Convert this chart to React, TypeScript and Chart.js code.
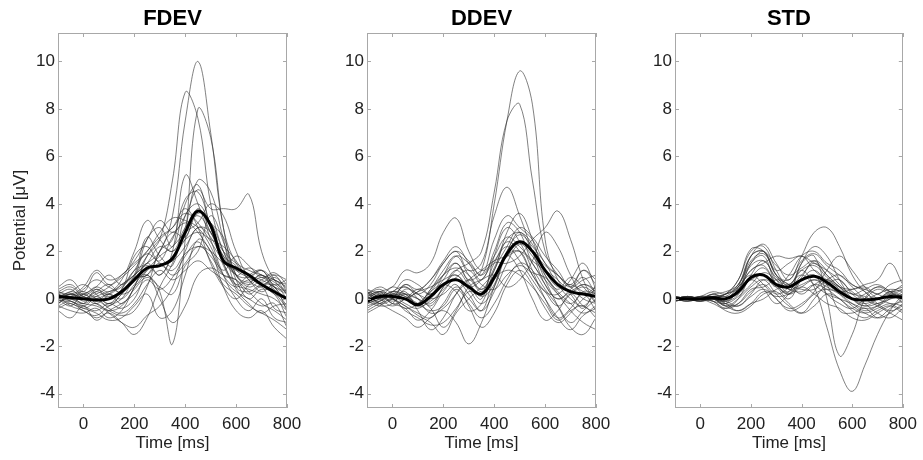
import React, { useEffect, useRef } from "react";
import { Chart, registerables } from "chart.js";

Chart.register(...registerables);

// ---------- data ----------
const timeMs = [-100, -50, 0, 50, 100, 150, 200, 250, 300, 350, 400, 450, 500, 550, 600, 650, 700, 750, 800];
const xTicks = [0, 200, 400, 600, 800];
const yTicks = [-4, -2, 0, 2, 4, 6, 8, 10];
const panelTitles = ["FDEV", "DDEV", "STD"];

const fdevMean = [0.1, 0.05, 0.0, -0.05, 0.0, 0.3, 0.8, 1.3, 1.4, 1.7, 2.8, 3.7, 3.1, 1.6, 1.3, 1.0, 0.6, 0.3, 0.0];
const ddevMean = [-0.1, 0.1, 0.1, 0.0, -0.25, 0.1, 0.6, 0.8, 0.5, 0.2, 0.9, 1.9, 2.4, 2.0, 1.2, 0.6, 0.3, 0.2, 0.1];
const stdMean = [0.0, 0.0, 0.0, 0.05, 0.0, 0.3, 0.9, 1.0, 0.6, 0.5, 0.8, 0.95, 0.7, 0.3, 0.0, -0.05, 0.0, 0.1, 0.05];

const fdevTrials: number[][] = [
  [0.2, 0.0, -0.2, 0.1, 0.3, 0.5, 1.2, 1.5, 2.0, 3.5, 7.5, 10.0, 7.0, 3.0, 1.5, 1.0, 0.8, 0.5, 0.3],
  [0.0, 0.3, 0.1, -0.2, 0.2, 0.6, 1.0, 1.8, 2.5, 5.0, 8.7, 7.6, 4.0, 2.0, 1.2, 0.9, 0.6, 0.8, 0.2],
  [-0.2, 0.1, 0.3, 0.0, -0.3, 0.2, 0.8, 1.0, 0.3, -1.9, 2.5, 8.0, 6.8, 3.0, 1.0, 0.6, 0.9, 0.4, -0.3],
  [0.3, 0.2, 0.5, 1.2, 0.8, 1.0, 1.6, 2.5, 3.3, 2.8, 3.5, 4.6, 3.8, 3.8, 3.8, 4.4, 2.0, 0.8, 0.2],
  [0.1, -0.3, -0.5, -0.8, -0.6, -1.0, -1.5, -0.8, 0.5, 1.5, 3.0, 5.0, 4.5, 2.5, 0.5, 0.3, 0.6, 0.5, -0.5],
  [-0.3, -0.5, -0.6, -0.4, -0.8, -0.5, 0.5, 1.5, 1.0, 2.0, 5.2, 4.0, 2.5, 1.0, 0.0, -0.5, 0.0, -0.8, -1.0],
  [0.4, 0.6, 0.2, 0.5, 0.3, 0.8, 2.0, 3.3, 2.5, 2.0, 3.0, 3.5, 2.8, 2.0, 1.5, 1.2, 1.0, 0.8, 0.5],
  [0.0, -0.2, -0.4, -0.6, -0.9, -0.8, -0.3, 0.2, -0.8, -0.5, 1.0, 2.5, 2.0, 0.5, -0.5, -0.8, -0.5, -1.2, -1.7],
  [-0.1, 0.2, 0.0, 0.3, 0.6, 0.2, 0.5, 1.2, 1.8, 2.2, 2.8, 3.2, 4.0, 3.5, 2.0, 1.0, 1.2, 0.6, 0.8],
  [0.2, 0.0, 0.4, 0.8, 0.5, 0.3, 0.9, 2.5, 3.0, 2.2, 4.0, 4.8, 3.0, 1.8, 1.0, 0.5, 0.8, 1.0, 0.3],
  [-0.4, -0.2, -0.5, -0.7, -0.3, 0.0, 0.8, 1.0, 1.5, 1.0, 1.5, 2.2, 1.8, 1.0, 0.8, 0.3, -0.2, -0.5, -0.9],
  [0.1, 0.3, 0.6, 0.2, -0.2, 0.4, 1.2, 1.9, 1.6, 2.6, 3.2, 2.8, 2.0, 1.2, 1.8, 1.4, 0.9, 1.1, 0.6],
  [0.0, -0.1, -0.3, 0.0, -0.4, -0.6, -0.2, 0.6, 1.2, 0.8, 1.2, 1.6, 1.2, 0.8, 0.3, 0.0, -0.3, -0.2, -1.2],
  [0.3, 0.1, 0.2, -0.2, -0.5, -0.7, -0.5, 0.5, 2.0, 2.5, 4.2, 4.5, 3.0, 1.5, 0.6, 0.4, 0.2, 0.0, -0.5],
  [-0.2, 0.2, 0.0, 0.2, 0.5, 1.0, 1.5, 2.0, 2.8, 3.4, 3.3, 3.0, 2.2, 1.0, 0.5, 0.8, 0.6, 0.2, 0.0],
  [0.2, -0.1, -0.3, -0.5, -0.2, -0.4, 0.0, 1.0, 0.0, -1.0, -0.3, 1.0, 1.3, 1.0, 0.8, 0.2, 0.5, -0.4, -0.6],
  [0.0, 0.2, 0.1, 0.4, 0.2, 0.6, 1.0, 1.4, 1.0, 1.8, 2.5, 3.6, 3.2, 2.0, 1.0, 1.3, 1.0, 0.7, 0.3],
  [-0.1, 0.0, -0.2, -0.3, -0.5, -0.3, 0.5, 1.8, 2.5, 3.0, 3.8, 3.0, 1.5, 0.5, 0.0, 0.6, 1.0, 0.5, 0.2],
  [0.3, 0.5, 0.1, 0.0, 0.2, 0.0, 0.6, 1.2, 1.4, 1.2, 1.9, 2.2, 2.0, 1.5, 1.2, 1.0, 0.7, 1.0, 0.8],
  [-0.3, -0.1, -0.4, -0.2, -0.6, -1.0, -1.2, -0.7, -0.3, 0.5, 2.0, 3.0, 2.6, 1.5, 0.4, -0.2, -0.6, -0.3, -0.2],
  [0.1, 0.0, 0.2, 0.5, 1.0, 0.6, 1.0, 1.5, 2.2, 2.0, 2.5, 2.8, 2.5, 2.2, 1.6, 0.8, 0.5, 0.9, 0.4],
  [0.0, 0.2, -0.1, 0.1, -0.2, 0.2, 1.0, 2.6, 1.8, 1.4, 3.5, 4.0, 3.2, 2.6, 1.0, 0.7, 1.0, 0.3, -0.4],
  [0.5, 0.8, 0.3, 1.1, 0.6, 0.9, 1.4, 2.0, 2.6, 3.0, 3.6, 3.2, 2.4, 1.6, 1.0, 0.9, 1.2, 0.8, 0.6],
  [-0.5, -0.8, -0.3, -0.9, -0.5, -0.2, 0.2, 0.8, 0.4, 0.9, 1.8, 2.4, 1.6, 0.6, 0.2, -0.3, -0.6, -0.9, -1.3],
  [0.2, 0.4, 0.0, 0.3, 0.1, 0.4, 1.8, 2.2, 1.5, 1.6, 2.2, 3.0, 2.8, 1.4, 0.6, 1.0, 1.2, 0.5, -0.1],
  [0.0, -0.3, 0.2, -0.1, 0.2, -0.2, 0.4, 0.9, 0.5, 0.2, 1.4, 2.0, 3.5, 2.4, 0.8, 0.0, 0.4, 0.2, -0.8],
  [-0.2, 0.1, -0.2, 0.4, 0.0, 0.3, 0.9, 1.0, 2.0, 2.8, 2.6, 3.8, 2.8, 1.8, 1.4, 0.8, 0.3, 0.6, 0.0],
];

const ddevTrials: number[][] = [
  [0.1, -0.1, 0.2, 0.0, -0.3, 0.3, 1.0, 1.5, 0.8, 1.2, 4.0, 7.5, 9.6, 8.2, 2.5, 0.8, 0.3, 0.5, 0.2],
  [-0.2, 0.0, 0.3, 0.2, 0.0, -0.2, 0.5, 1.2, 1.5, 2.0, 4.5, 7.5, 8.2, 5.0, 2.0, 1.0, 0.5, 0.0, -0.2],
  [0.2, 0.4, 0.1, 0.6, 0.4, 0.8, 1.5, 2.0, 1.2, 1.5, 3.5, 4.7, 3.5, 2.0, 0.6, 0.0, 0.3, 0.6, 0.4],
  [0.0, 0.3, 0.5, 1.2, 1.1, 1.5, 2.8, 3.4, 2.0, 1.2, 1.6, 2.4, 2.0, 1.0, 0.3, -0.3, 0.2, 0.6, 0.3],
  [-0.3, -0.1, 0.2, 0.0, 0.3, 0.5, 0.8, 1.0, 0.5, 0.8, 1.5, 1.5, 1.8, 2.5, 3.0, 3.7, 2.5, 0.8, -0.2],
  [0.1, -0.2, -0.5, -0.8, -1.2, -0.8, -0.5, -1.0, -1.9, -1.0, 0.5, 1.8, 1.2, 0.0, -0.9, -0.5, 0.2, -0.3, -0.6],
  [0.3, 0.1, 0.0, -0.3, -0.7, -1.0, -1.5, -0.6, 0.0, 0.5, 1.2, 2.8, 3.6, 2.5, 1.0, 0.2, -0.5, -1.0, -1.3],
  [-0.5, -0.2, 0.0, 0.2, -0.5, -1.3, -0.8, 0.2, 0.8, 0.3, 1.0, 2.0, 2.8, 2.0, 0.8, -0.3, -1.2, -1.5, -0.8],
  [0.2, 0.5, 0.3, 0.8, 0.6, 0.2, 1.0, 1.8, 1.5, 1.0, 2.5, 3.5, 3.0, 2.5, 1.5, 1.0, 0.5, 1.2, 0.8],
  [0.0, 0.1, -0.2, -0.4, -0.9, -0.5, 0.3, 0.8, 0.2, -0.5, 0.3, 1.5, 2.3, 1.8, 1.0, 0.3, -0.2, -0.6, -0.3],
  [-0.2, 0.0, 0.3, 0.1, -0.2, 0.4, 1.2, 1.8, 1.0, 0.4, 1.3, 2.5, 2.8, 2.3, 1.2, 0.5, 0.6, 0.3, 0.1],
  [0.4, 0.2, -0.1, 0.2, 0.0, -0.4, -1.2, -0.5, 0.5, 0.8, 1.0, 0.5, 0.8, 1.6, 2.8, 2.2, 1.0, 0.2, 0.5],
  [-0.1, -0.3, -0.2, 0.4, 0.2, -0.3, 0.5, 1.2, 0.6, 0.0, 1.8, 3.0, 2.4, 1.2, 0.0, -0.8, -0.4, 0.3, 0.2],
  [0.1, 0.3, 0.0, -0.3, -0.6, -0.8, -0.2, 0.5, 0.0, -0.5, 0.8, 1.2, 1.0, 0.5, -0.2, -0.9, -0.5, -0.3, -0.8],
  [0.0, -0.2, 0.3, 0.5, 0.2, 0.6, 1.5, 2.0, 1.6, 1.0, 1.8, 2.6, 2.2, 1.6, 1.2, 0.8, 0.2, -0.4, 0.6],
  [-0.4, -0.1, 0.1, -0.2, -0.4, 0.0, 0.6, 1.0, 0.4, -0.2, 0.5, 1.8, 2.0, 1.0, 0.3, 0.2, 0.8, 1.5, 0.4],
  [0.3, 0.0, 0.2, 0.1, -0.2, -0.5, -0.3, 0.4, -0.2, -0.8, -0.2, 0.8, 1.5, 1.2, 0.4, -0.3, -1.0, -0.5, 0.0],
  [-0.2, 0.2, 0.0, -0.4, -0.2, 0.3, 0.6, 0.3, -0.5, -0.2, 1.2, 2.2, 3.0, 2.6, 1.8, 1.2, 0.5, 0.8, 1.0],
  [0.2, 0.0, -0.3, 0.0, 0.3, 0.8, 1.6, 2.2, 1.5, 0.8, 2.0, 3.2, 2.8, 1.5, 0.8, 0.2, -0.2, 0.2, -0.5],
  [0.0, 0.3, 0.2, 0.5, 0.0, -0.6, -0.4, 0.2, 0.8, 1.2, 1.6, 1.8, 2.0, 1.5, 0.6, 0.0, 0.4, 0.9, 0.2],
  [0.4, 0.1, 0.5, 0.2, -0.2, 0.4, 1.0, 1.3, 1.0, 0.4, 1.0, 1.8, 2.4, 2.0, 1.4, 1.0, 0.6, 1.2, 0.6],
  [-0.6, -0.3, 0.0, -0.5, -0.8, -1.1, -1.0, -0.4, 0.3, 0.2, 1.5, 2.2, 1.6, 0.8, 0.0, -0.8, -1.3, -0.7, -0.4],
  [0.1, 0.3, -0.2, 0.0, 0.4, 0.2, 0.8, 1.5, 0.7, 0.1, 0.6, 2.0, 2.7, 2.2, 1.5, 0.6, 0.0, -0.3, 0.3],
  [-0.1, 0.2, 0.1, 0.3, -0.3, -0.1, 0.4, 0.9, 1.2, 0.6, 0.4, 1.0, 1.4, 1.1, 0.9, 0.4, 0.9, 0.5, -0.2],
  [0.3, -0.2, 0.0, 0.6, 0.2, 0.0, 0.2, 0.6, -0.3, -1.2, -0.6, 0.6, 1.2, 0.6, -0.4, -1.0, -0.6, 0.0, 0.4],
];

const stdTrials: number[][] = [
  [0.0, 0.1, 0.0, 0.1, 0.2, 0.8, 2.0, 2.2, 1.2, 0.5, 1.0, 1.5, 1.0, 0.5, 0.0, -0.3, -0.2, 0.0, 0.2],
  [0.1, 0.0, -0.1, 0.0, -0.2, 0.5, 1.8, 2.3, 1.5, 0.8, 1.8, 2.8, 3.0, 2.2, 1.0, 0.3, 0.0, 0.3, 0.1],
  [0.0, -0.1, 0.1, 0.0, -0.3, -0.2, 0.3, 0.6, 0.2, 0.5, 1.2, 0.5, -1.2, -3.0, -3.9, -2.8, -1.5, -0.5, 0.2],
  [-0.1, 0.0, 0.0, -0.2, -0.4, 0.0, 1.0, 1.6, 0.8, 0.3, 1.5, 1.8, 0.0, -2.4, -1.5, 0.0, 0.5, 0.3, -0.2],
  [0.0, 0.1, 0.0, 0.2, 0.1, 0.6, 1.5, 2.0, 1.0, 0.4, 0.6, 0.8, 0.5, 0.3, 0.4, 0.6, 0.8, 1.5, 0.6],
  [0.1, 0.0, 0.0, -0.1, -0.5, -0.6, -0.3, 0.2, 0.3, -0.2, -0.6, -0.3, 0.2, 0.0, -0.5, -0.8, -0.5, -0.3, -0.6],
  [0.0, 0.0, 0.1, 0.3, 0.2, 0.5, 1.2, 1.5, 1.8, 1.7, 1.8, 1.5, 1.2, 0.8, 0.3, 0.0, 0.2, 0.4, 0.3],
  [-0.1, 0.0, -0.1, 0.0, -0.3, 0.0, 0.5, 0.8, 0.2, -0.3, -0.6, 0.0, 0.6, 0.8, 0.2, -0.2, -0.6, -0.8, -0.4],
  [0.0, 0.1, 0.0, 0.2, 0.0, 0.3, 1.8, 2.0, 1.0, 0.8, 1.6, 1.9, 1.4, 1.0, 0.6, 0.3, -0.2, -0.5, -0.3],
  [0.1, 0.0, -0.1, 0.1, -0.2, -0.5, -0.2, 0.3, 0.1, 0.2, 0.5, 0.2, -0.2, -0.4, -0.8, -0.9, -0.6, -0.3, -0.1],
  [0.0, -0.1, 0.0, 0.0, 0.2, 0.4, 0.8, 1.0, 0.5, 1.0, 1.8, 2.0, 1.5, 1.2, 0.6, 0.4, 0.2, 0.0, 0.2],
  [0.0, 0.0, 0.1, 0.0, -0.1, 0.2, 1.5, 1.8, 0.6, 0.2, 0.5, 0.8, 0.6, 0.2, -0.3, -0.6, -0.8, -0.4, 0.0],
  [-0.1, 0.0, 0.0, 0.1, 0.0, 0.5, 1.0, 0.6, 0.0, -0.4, -0.2, 0.3, 1.2, 1.8, 1.2, 0.5, 0.0, -0.2, -0.5],
  [0.0, 0.1, 0.0, -0.1, -0.4, -0.2, 0.4, 0.5, 0.8, 0.6, 0.2, 0.6, 0.8, 0.5, 0.0, 0.2, 0.5, 0.3, 0.4],
  [0.1, 0.0, 0.0, 0.2, 0.3, 0.6, 1.6, 1.9, 1.2, 1.5, 1.8, 1.2, 0.8, 0.5, 0.4, 0.5, 0.2, 0.6, 0.8],
  [0.0, -0.1, 0.0, 0.0, -0.2, -0.3, 0.2, 0.8, 0.5, 0.0, 0.8, 1.2, 0.6, -0.5, -0.6, -0.4, -0.8, -0.6, -0.2],
  [0.0, 0.0, 0.1, 0.1, 0.0, 0.4, 1.2, 1.4, 0.6, 0.3, 1.5, 2.2, 1.8, 0.8, 0.0, -0.3, 0.0, 0.3, 0.5],
  [-0.1, 0.1, 0.0, 0.0, -0.1, 0.3, 0.8, 0.4, -0.2, 0.2, 0.8, 1.0, 0.2, -0.2, -0.4, 0.0, 0.4, 0.2, 0.1],
  [0.0, 0.0, -0.1, 0.0, 0.2, 0.8, 2.1, 2.0, 1.0, 0.6, 0.4, 0.4, 0.8, 1.0, 0.5, 0.0, -0.3, -0.6, -0.9],
  [0.0, 0.1, 0.0, 0.0, -0.3, -0.5, -0.2, 0.0, 0.4, 0.6, 1.0, 0.6, 0.2, 0.0, -0.2, -0.4, -0.3, 0.0, 0.3],
  [0.05, -0.05, 0.0, 0.1, 0.0, 0.4, 1.4, 1.6, 0.9, 0.6, 1.2, 1.4, 0.9, 0.4, 0.0, -0.2, 0.0, 0.2, 0.1],
  [-0.05, 0.05, 0.0, -0.1, -0.2, 0.1, 0.6, 1.1, 0.8, 0.4, 0.3, 0.6, 0.4, 0.0, -0.4, -0.6, -0.4, -0.2, -0.3],
  [0.0, 0.0, 0.05, 0.1, 0.1, 0.2, 0.9, 1.3, 0.6, 0.2, 0.9, 1.6, 1.2, 0.6, 0.2, 0.4, 0.6, 0.3, 0.0],
  [0.05, 0.0, -0.05, 0.0, -0.1, -0.3, 0.1, 0.4, 0.0, -0.5, -0.3, 0.2, 0.4, 0.2, -0.2, -0.5, -0.3, 0.1, 0.4],
  [0.0, 0.05, 0.0, 0.1, 0.2, 0.6, 1.8, 2.0, 1.4, 1.0, 1.3, 1.6, 1.0, 0.5, 0.2, 0.1, -0.2, 0.2, 0.6],
];

// ---------- chart ----------
const FONT = "'Liberation Sans', Arial, Helvetica, sans-serif";

const framePlugin = {
  id: "matlabFrame",
  afterDatasetsDraw(chart: any) {
    const { ctx, chartArea } = chart;
    const { left, right, top, bottom } = chartArea;
    const xs = chart.scales.x;
    const ys = chart.scales.y;
    ctx.save();
    ctx.strokeStyle = "#a8a8a8";
    ctx.lineWidth = 1;
    ctx.strokeRect(Math.round(left) + 0.5, Math.round(top) + 0.5, Math.round(right - left) - 1, Math.round(bottom - top) - 1);
    ctx.beginPath();
    const tl = 4;
    xTicks.forEach((v) => {
      const px = Math.round(xs.getPixelForValue(v)) + 0.5;
      ctx.moveTo(px, bottom);
      ctx.lineTo(px, bottom - tl);
      ctx.moveTo(px, top);
      ctx.lineTo(px, top + tl);
    });
    yTicks.forEach((v) => {
      const py = Math.round(ys.getPixelForValue(v)) + 0.5;
      ctx.moveTo(left, py);
      ctx.lineTo(left + tl, py);
      ctx.moveTo(right, py);
      ctx.lineTo(right - tl, py);
    });
    ctx.stroke();
    // panel title centred over the plot box
    const title = chart.options.plugins.panelTitle?.text;
    if (title) {
      ctx.fillStyle = "#000";
      ctx.font = `bold 22px ${FONT}`;
      ctx.textAlign = "center";
      ctx.textBaseline = "middle";
      ctx.fillText(title, (left + right) / 2, 19);
    }
    ctx.restore();
  },
};

type PanelProps = {
  title: string;
  mean: number[];
  trials: number[][];
  showYTitle: boolean;
  canvasLeft: number;
  canvasWidth: number;
  areaLeft: number;
  areaRight: number;
};

function toXY(vals: number[]) {
  return vals.map((y, i) => ({ x: timeMs[i], y }));
}

function Panel(p: PanelProps) {
  const ref = useRef<HTMLCanvasElement>(null);
  useEffect(() => {
    if (!ref.current) return;
    const datasets: any[] = [
      {
        data: toXY(p.mean),
        borderColor: "#000000",
        borderWidth: 3,
        pointRadius: 0,
        tension: 0.4,
      },
      ...p.trials.map((t) => ({
        data: toXY(t),
        borderColor: "rgba(45,45,45,0.6)",
        borderWidth: 1,
        pointRadius: 0,
        tension: 0.4,
      })),
    ];
    const tickFont = { family: FONT, size: 17 };
    const chart = new Chart(ref.current, {
      type: "line",
      data: { datasets },
      options: {
        responsive: false,
        animation: false,
        events: [],
        layout: {
          padding: { left: 0, right: p.canvasLeft + p.canvasWidth - p.areaRight, top: 33, bottom: 0 },
        },
        plugins: {
          legend: { display: false },
          tooltip: { enabled: false },
          title: { display: false },
          panelTitle: { text: p.title },
        },
        scales: {
          x: {
            type: "linear",
            min: -100,
            max: 800,
            grid: { display: false, drawTicks: false },
            border: { display: false },
            afterBuildTicks: (s: any) => {
              s.ticks = xTicks.map((v) => ({ value: v }));
            },
            afterFit: (s: any) => {
              s.height = 52;
            },
            ticks: { font: tickFont, color: "#222", padding: 6, maxRotation: 0, autoSkip: false },
            title: {
              display: true,
              text: "Time [ms]",
              color: "#222",
              font: tickFont,
              padding: { top: 0, bottom: 6 },
            },
          },
          y: {
            type: "linear",
            min: -4.6,
            max: 11.2,
            grid: { display: false, drawTicks: false },
            border: { display: false },
            afterBuildTicks: (s: any) => {
              s.ticks = yTicks.map((v) => ({ value: v }));
            },
            afterFit: (s: any) => {
              s.width = p.areaLeft;
            },
            ticks: { font: tickFont, color: "#222", padding: 3, autoSkip: false },
            title: {
              display: p.showYTitle,
              text: "Potential [\u03bcV]",
              color: "#222",
              font: tickFont,
              padding: { top: 10, bottom: 0 },
            },
          },
        },
      } as any,
      plugins: [framePlugin],
    });
    return () => chart.destroy();
  }, []);
  return (
    <canvas
      ref={ref}
      width={p.canvasWidth}
      height={460}
      style={{ position: "absolute", left: p.canvasLeft, top: 0, width: p.canvasWidth, height: 460 }}
    />
  );
}

export default function App() {
  return (
    <div
      style={{
        position: "absolute",
        left: 0,
        top: 0,
        width: 923,
        height: 460,
        overflow: "hidden",
        background: "#ffffff",
      }}
    >
      <Panel title={panelTitles[0]} mean={fdevMean} trials={fdevTrials} showYTitle={true}
        canvasLeft={0} canvasWidth={320} areaLeft={58} areaRight={287} />
      <Panel title={panelTitles[1]} mean={ddevMean} trials={ddevTrials} showYTitle={false}
        canvasLeft={310} canvasWidth={316} areaLeft={57} areaRight={596} />
      <Panel title={panelTitles[2]} mean={stdMean} trials={stdTrials} showYTitle={false}
        canvasLeft={615} canvasWidth={308} areaLeft={60} areaRight={904} />
    </div>
  );
}
